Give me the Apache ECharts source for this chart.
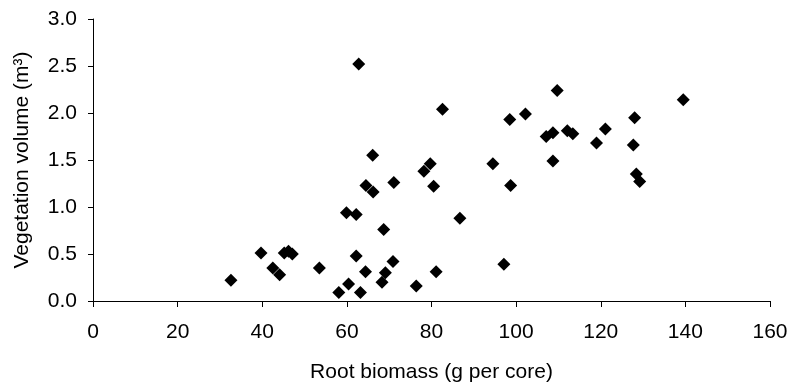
<!DOCTYPE html>
<html>
<head>
<meta charset="utf-8">
<script src="https://cdn.jsdelivr.net/npm/echarts@6/dist/echarts.min.js"></script>
<style>
  html, body { margin: 0; padding: 0; background: #fff; }
  #chart { width: 795px; height: 389px; }
</style>
</head>
<body>
<div id="chart"></div>
<script>
// root biomass (g per core) vs vegetation volume (m3)
var rootBiomass = [
  32.6, 39.7, 42.5, 44.1, 45.2, 46.2, 47.1, 53.5, 58.1, 60.4,
  63.2, 62.8, 66.1, 64.5, 66.2, 71.1, 59.9, 62.2, 68.7, 62.2,
  64.4, 69.1, 68.3, 70.9, 76.4, 81.1, 82.6, 78.2, 79.7, 80.5,
  86.7, 97.1, 94.5, 98.7, 98.5, 102.2, 109.7, 107.1, 108.7, 108.7,
  112.1, 113.4, 119.0, 121.1, 128.0, 127.7, 128.4, 129.2, 139.5
];
var vegVolume = [
  0.22, 0.51, 0.35, 0.28, 0.51, 0.53, 0.50, 0.35, 0.09, 0.18,
  0.09, 2.52, 1.55, 1.23, 1.16, 1.26, 0.94, 0.92, 0.76, 0.48,
  0.31, 0.30, 0.20, 0.42, 0.16, 0.31, 2.04, 1.38, 1.46, 1.22,
  0.88, 0.39, 1.46, 1.23, 1.93, 1.99, 2.24, 1.75, 1.79, 1.49,
  1.81, 1.78, 1.68, 1.83, 1.95, 1.66, 1.35, 1.27, 2.14
];
var xTicks = { min: 0, max: 160, step: 20 };
var yTicks = { min: 0, max: 3, step: 0.5 };

var points = rootBiomass.map(function (x, i) { return [x, vegVolume[i]]; });

var chart = echarts.init(document.getElementById('chart'));
var font = 'Liberation Sans, Arial, sans-serif';
var option = {
  animation: false,
  grid: { left: 93, right: 25, top: 19, bottom: 88 },
  xAxis: {
    type: 'value',
    min: xTicks.min, max: xTicks.max, interval: xTicks.step,
    name: 'Root biomass (g per core)',
    nameLocation: 'middle',
    nameGap: 61,
    nameTextStyle: { fontFamily: font, fontSize: 21, color: '#000' },
    axisLine: { onZero: false, lineStyle: { color: '#000', width: 1 } },
    axisTick: { show: true, length: 6, lineStyle: { color: '#000' } },
    axisLabel: { fontFamily: font, fontSize: 21, color: '#000', margin: 21 },
    splitLine: { show: false }
  },
  yAxis: {
    type: 'value',
    min: yTicks.min, max: yTicks.max, interval: yTicks.step,
    name: 'Vegetation volume (m³)',
    nameLocation: 'middle',
    nameGap: 60,
    nameTextStyle: { fontFamily: font, fontSize: 21, color: '#000' },
    axisLine: { show: true, lineStyle: { color: '#000', width: 1 } },
    axisTick: { show: true, length: 5, lineStyle: { color: '#000' } },
    axisLabel: {
      fontFamily: font, fontSize: 21, color: '#000', margin: 16,
      formatter: function (v) { return v.toFixed(1); }
    },
    splitLine: { show: false }
  },
  series: [{
    type: 'scatter',
    data: points,
    symbol: 'diamond',
    symbolSize: 13,
    itemStyle: { color: '#000', opacity: 1 }
  }]
};
chart.setOption(option);
</script>
</body>
</html>
